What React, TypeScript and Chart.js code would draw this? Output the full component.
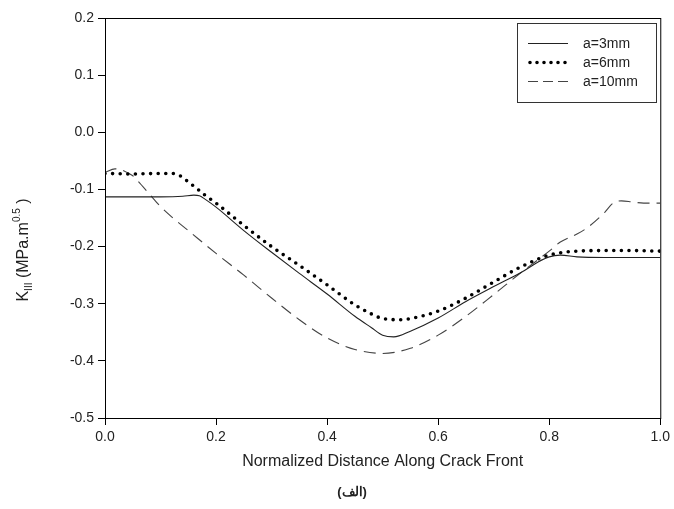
import React, { useEffect, useRef } from "react";
import { Chart, registerables } from "chart.js";

Chart.register(...registerables);

const xTicks = [0.0, 0.2, 0.4, 0.6, 0.8, 1.0];
const yTicks = [0.2, 0.1, 0.0, -0.1, -0.2, -0.3, -0.4, -0.5];

const x3 = [0, 0.05, 0.1, 0.14, 0.16, 0.17, 0.18, 0.2, 0.25, 0.3, 0.35, 0.4, 0.45, 0.48, 0.5, 0.52, 0.55, 0.6, 0.65, 0.7, 0.75, 0.78, 0.8, 0.82, 0.85, 0.9, 0.95, 1.0];
const y3 = [-0.113, -0.113, -0.113, -0.112, -0.11, -0.111, -0.117, -0.131, -0.172, -0.21, -0.247, -0.283, -0.322, -0.342, -0.355, -0.358, -0.348, -0.325, -0.296, -0.27, -0.245, -0.227, -0.218, -0.215, -0.218, -0.219, -0.219, -0.219];

const x6 = [0, 0.05, 0.1, 0.12, 0.13, 0.14, 0.15, 0.165, 0.18, 0.2, 0.25, 0.3, 0.35, 0.4, 0.45, 0.48, 0.5, 0.53, 0.55, 0.6, 0.65, 0.7, 0.75, 0.8, 0.85, 0.9, 0.95, 1.0];
const y6 = [-0.072, -0.073, -0.072, -0.072, -0.074, -0.079, -0.087, -0.098, -0.11, -0.124, -0.163, -0.2, -0.233, -0.267, -0.302, -0.318, -0.326, -0.328, -0.326, -0.313, -0.29, -0.262, -0.235, -0.215, -0.208, -0.207, -0.207, -0.208];

const x10 = [0, 0.018, 0.03, 0.041, 0.05, 0.06, 0.08, 0.1, 0.12, 0.15, 0.2, 0.25, 0.3, 0.35, 0.4, 0.45, 0.5, 0.55, 0.6, 0.65, 0.7, 0.75, 0.8, 0.82, 0.85, 0.87, 0.9, 0.915, 0.93, 0.95, 0.97, 1.0];
const y10 = [-0.07, -0.064, -0.066, -0.071, -0.076, -0.086, -0.108, -0.13, -0.148, -0.172, -0.212, -0.25, -0.29, -0.328, -0.36, -0.38, -0.387, -0.378, -0.355, -0.322, -0.284, -0.245, -0.208, -0.192, -0.178, -0.166, -0.14, -0.124, -0.12, -0.122, -0.124, -0.124];

const seriesNames = ["a=3mm", "a=6mm", "a=10mm"];
const xTitle = "Normalized Distance Along Crack Front";
const subTitle = "(الف)";

const toPts = (xs: number[], ys: number[]) => xs.map((x, i) => ({ x, y: ys[i] }));

const FONT = "'Liberation Sans', Arial, sans-serif";

export default function App() {
  const ref = useRef<HTMLCanvasElement | null>(null);
  useEffect(() => {
    document.body.style.margin = "0";
    const canvas = ref.current!;
    const styles = [
      { borderColor: "#222", borderWidth: 1.1, borderDash: [] as number[], borderCapStyle: "butt" },
      { borderColor: "#000", borderWidth: 3.6, borderDash: [0, 7.6], borderCapStyle: "round" },
      { borderColor: "#444", borderWidth: 1.1, borderDash: [12, 7], borderCapStyle: "butt" },
    ];
    const legendDash = [[], [0, 7], [10, 5]];
    const frame = {
      id: "frame",
      afterDraw(chart: any) {
        const { ctx, chartArea: a } = chart;
        ctx.save();
        ctx.strokeStyle = "#000";
        ctx.lineWidth = 1;
        ctx.strokeRect(a.left + 0.5, a.top + 0.5, a.right - a.left, a.bottom - a.top);
        // legend
        const lx = 517, ly = 23, lw = 139, lh = 79;
        ctx.fillStyle = "#fff";
        ctx.fillRect(lx, ly, lw, lh);
        ctx.strokeStyle = "#333";
        ctx.strokeRect(lx + 0.5, ly + 0.5, lw, lh);
        const rows = [43, 62, 81];
        seriesNames.forEach((name, i) => {
          const s = styles[i];
          ctx.save();
          ctx.strokeStyle = s.borderColor;
          ctx.lineWidth = s.borderWidth;
          ctx.setLineDash(legendDash[i]);
          ctx.lineCap = s.borderCapStyle as CanvasLineCap;
          ctx.beginPath();
          ctx.moveTo(i === 1 ? 530 : 528, rows[i] + 0.5);
          ctx.lineTo(568, rows[i] + 0.5);
          ctx.stroke();
          ctx.restore();
          ctx.fillStyle = "#222";
          ctx.font = `14px ${FONT}`;
          ctx.textBaseline = "middle";
          ctx.textAlign = "left";
          ctx.fillText(name, 583, rows[i] + 1);
        });
        // x title
        ctx.fillStyle = "#222";
        ctx.font = `16px ${FONT}`;
        ctx.textAlign = "center";
        ctx.textBaseline = "middle";
        ctx.fillText(xTitle, (a.left + a.right) / 2, 462);
        ctx.font = `bold 13px ${FONT}`;
        ctx.fillText(subTitle, 352, 492);
        // y title with sub/superscript
        ctx.save();
        ctx.translate(24, 250);
        ctx.rotate(-Math.PI / 2);
        const parts = [
          { t: "K", f: 16, dy: 0 },
          { t: "III", f: 10, dy: 5 },
          { t: " (MPa.m", f: 16, dy: 0 },
          { t: "0.5", f: 10, dy: -7 },
          { t: " )", f: 16, dy: 0 },
        ];
        let total = 0;
        parts.forEach((p) => {
          ctx.font = `${p.f}px ${FONT}`;
          total += ctx.measureText(p.t).width;
        });
        let cx = -total / 2;
        ctx.textAlign = "left";
        parts.forEach((p) => {
          ctx.font = `${p.f}px ${FONT}`;
          ctx.fillText(p.t, cx, p.dy);
          cx += ctx.measureText(p.t).width;
        });
        ctx.restore();
        ctx.restore();
      },
    };
    const data3 = toPts(x3, y3);
    const data6 = toPts(x6, y6);
    const data10 = toPts(x10, y10);
    const chart = new Chart(canvas, {
      type: "line",
      data: {
        datasets: [data3, data6, data10].map((d, i) => ({
          label: seriesNames[i],
          data: d,
          ...(styles[i] as any),
          pointRadius: 0,
          fill: false,
          cubicInterpolationMode: "monotone",
        })),
      },
      options: {
        animation: false,
        responsive: false,
        layout: { padding: { left: 0, top: 18, right: 12, bottom: 0 } },
        plugins: { legend: { display: false }, tooltip: { enabled: false } },
        scales: {
          x: {
            type: "linear",
            min: 0,
            max: 1,
            afterBuildTicks: (s: any) => {
              s.ticks = xTicks.map((v) => ({ value: v }));
            },
            afterFit: (s: any) => {
              s.height = 91;
            },
            grid: { drawOnChartArea: false, drawTicks: true, tickLength: 7, color: "#000" },
            border: { display: true, color: "#000" },
            ticks: {
              color: "#222",
              font: { family: FONT, size: 14 },
              padding: 4,
              maxRotation: 0,
              callback: (v: any) => Number(v).toFixed(1),
            },
          },
          y: {
            type: "linear",
            min: -0.5,
            max: 0.2,
            afterBuildTicks: (s: any) => {
              s.ticks = yTicks.map((v) => ({ value: v }));
            },
            afterFit: (s: any) => {
              s.width = 105;
            },
            grid: { drawOnChartArea: false, drawTicks: true, tickLength: 7, color: "#000" },
            border: { display: true, color: "#000" },
            ticks: {
              color: "#222",
              font: { family: FONT, size: 14 },
              padding: 4,
              callback: (v: any) => Number(v).toFixed(1),
            },
          },
        },
      },
      plugins: [frame],
    } as any);
    return () => chart.destroy();
  }, []);
  return <canvas ref={ref} width={674} height={509} style={{ display: "block" }} />;
}
